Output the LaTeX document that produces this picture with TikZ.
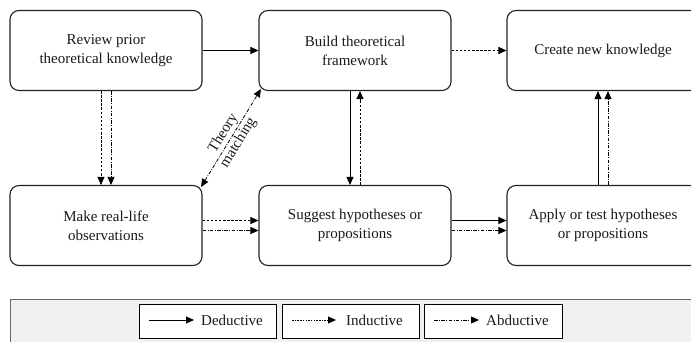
\documentclass[tikz,border=0pt]{standalone}
\usepackage{fontspec}
\setmainfont{Liberation Serif}
\usetikzlibrary{arrows.meta}
\definecolor{edge}{HTML}{222222}
\definecolor{band}{HTML}{F0F0F0}
\definecolor{bandline}{HTML}{666666}
\definecolor{ink}{HTML}{1A1A1A}
\tikzset{
  txt/.style={font=\fontsize{15}{19}\selectfont, text=ink},
  stage/.style={txt, draw=edge, line width=1.1pt, rounded corners=9pt, fill=white,
    minimum width=192pt, minimum height=80pt, align=center, inner sep=0pt},
  tip/.style={-{Triangle[length=8pt,width=7pt]}},
  deductive/.style={tip, draw=black, line width=0.9pt},
  inductive/.style={tip, draw=black, line width=0.9pt, dash pattern=on 2.5pt off 1.6pt},
  abductive/.style={tip, draw=black, line width=0.8pt, dash pattern=on 3.5pt off 1.5pt on 0.8pt off 1.5pt},
  keybox/.style={draw=black, line width=0.9pt, fill=white, minimum height=34pt, inner sep=0pt},
  keytext/.style={txt, anchor=west, inner sep=0pt},
}
\begin{document}
\begin{tikzpicture}[x=1pt,y=-1pt]
  \useasboundingbox (0,0) rectangle (691,342);
  \clip (0,0) rectangle (691,342);

  % process stages
  \node[stage] (review)  at (106,50.5)  {Review prior\\theoretical knowledge};
  \node[stage] (build)   at (355,50.5)  {Build theoretical\\framework};
  \node[stage] (create)  at (603,50.5)  {Create new knowledge};
  \node[stage] (observe) at (106,225.5) {Make real-life\\observations};
  \node[stage] (suggest) at (355,225.5) {Suggest hypotheses or\\propositions};
  \node[stage] (apply)   at (603,225.5) {Apply or test hypotheses\\or propositions};

  % top row
  \draw[deductive] (review.east) -- (build.west);
  \draw[inductive] (build.east) -- (create.west);

  % verticals
  \draw[inductive] ([xshift=-5pt]review.south) -- ([xshift=-5pt]observe.north);
  \draw[abductive] ([xshift=5pt]review.south) -- ([xshift=5pt]observe.north);
  \draw[deductive] ([xshift=-5pt]build.south) -- ([xshift=-5pt]suggest.north);
  \draw[inductive] ([xshift=5pt]suggest.north) -- ([xshift=5pt]build.south);
  \draw[deductive] ([xshift=-5pt]apply.north) -- ([xshift=-5pt]create.south);
  \draw[abductive] ([xshift=5pt]apply.north) -- ([xshift=5pt]create.south);

  % bottom row
  \draw[inductive] ([yshift=5pt]observe.east) -- ([yshift=5pt]suggest.west);
  \draw[abductive] ([yshift=-5pt]observe.east) -- ([yshift=-5pt]suggest.west);
  \draw[deductive] ([yshift=5pt]suggest.east) -- ([yshift=5pt]apply.west);
  \draw[abductive] ([yshift=-5pt]suggest.east) -- ([yshift=-5pt]apply.west);

  % theory matching, label split on either side of the line
  \draw[abductive, {Triangle[length=8pt,width=7pt]}-{Triangle[length=8pt,width=7pt]}]
    ([shift={(-1.5pt,-2pt)}]observe.north east) -- ([shift={(2.5pt,2pt)}]build.south west)
    node[midway, sloped, above, txt, inner sep=1.5pt] (tma) {Theory}
    node[midway, sloped, below, txt, inner sep=1.5pt] (tmb) {matching};

  % legend band
  \fill[band] (10,299) rectangle (720,360);
  \draw[bandline, line width=1pt] (10,360) -- (10,299) -- (720,299);

  \node[keybox, minimum width=137pt] (kd) at (208,321) {};
  \node[keybox, minimum width=137pt] (ki) at (350.5,321) {};
  \node[keybox, minimum width=138pt] (ka) at (493.6,321) {};

  \node[keytext] (kdt) at (201,320) {Deductive};
  \node[keytext] (kit) at (346,320) {Inductive};
  \node[keytext] (kat) at (486,320) {Abductive};

  \coordinate (kda) at (149,320);
  \coordinate (kia) at (292,320);
  \coordinate (kaa) at (434,320);
  \draw[deductive] (kda) -- ([xshift=-7pt]kdt.west);
  \draw[inductive, dash pattern=on 1.5pt off 1.2pt] (kia) -- ([xshift=-10pt]kit.west);
  \draw[abductive] (kaa) -- ([xshift=-7pt]kat.west);
\end{tikzpicture}
\end{document}
